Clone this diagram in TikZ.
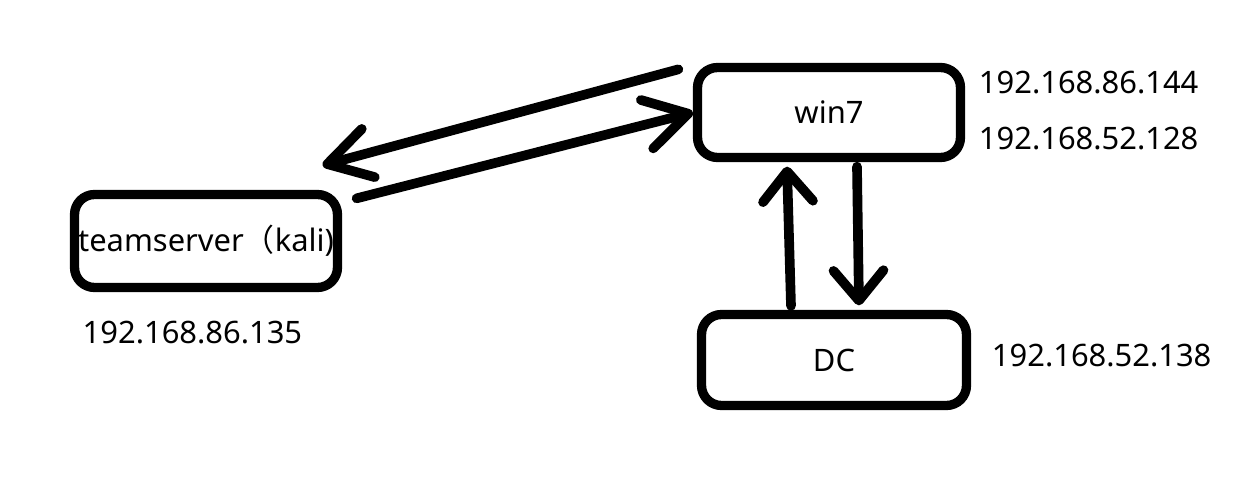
\documentclass[tikz,border=0pt]{standalone}
\usepackage{fontspec}
\setmainfont{Noto Sans}
\newfontfamily\cjkfont{Noto Sans CJK SC}
\usetikzlibrary{calc,arrows.meta}

\begin{document}
\begin{tikzpicture}[x=0.02cm, y=-0.02cm, line join=round, line cap=round,
	font=\fontsize{17.6}{20}\selectfont,
	hostbox/.style={draw, line width=5.3pt, rounded corners=0.4cm, inner sep=0pt},
	iplabel/.style={anchor=west, inner sep=0pt},
	link/.style={line width=5.5pt, -{Straight Barb[length=#1, width=1.0cm, round]}},
	link/.default=0.6cm]
	\useasboundingbox (0,0) rectangle (1248,502);
	\node[hostbox, minimum width=5.26cm, minimum height=1.86cm] (ts) at (206,241) {teamserver{\cjkfont （}kali)};
	\node[hostbox, minimum width=5.26cm, minimum height=1.80cm] (win7) at (829,112.5) {win7};
	\node[hostbox, minimum width=5.30cm, minimum height=1.82cm] (dc) at (834,360) {DC};
	\node[iplabel] (ip1) at ($(win7.north east)+(13.5,19.5)$) {192.168.86.144};
	\node[iplabel] (ip2) at ($(win7.north east)+(13.5,75.5)$) {192.168.52.128};
	\node[iplabel] (ip3) at ($(ts.south west)+(12.5,40.5)$) {192.168.86.135};
	\node[iplabel] (ip4) at ($(dc.east)+(20.5,-4)$) {192.168.52.138};
	% win7 <-> teamserver
	\draw[link=0.85cm] ($(win7.north west)+(-14.5,6.5)$) -- ($(ts.north east)+(-19.5,-24.5)$);
	\draw[link=0.85cm] ($(ts.north east)+(14.5,8.5)$) -- (win7.west);
	% DC <-> win7
	\draw[link] ($(dc.north)+(-43,-4)$) -- ($(win7.south)+(-42,4.5)$);
	\draw[link] ($(win7.south)+(28,4.5)$) -- ($(dc.north)+(25,-4.5)$);
\end{tikzpicture}
\end{document}
